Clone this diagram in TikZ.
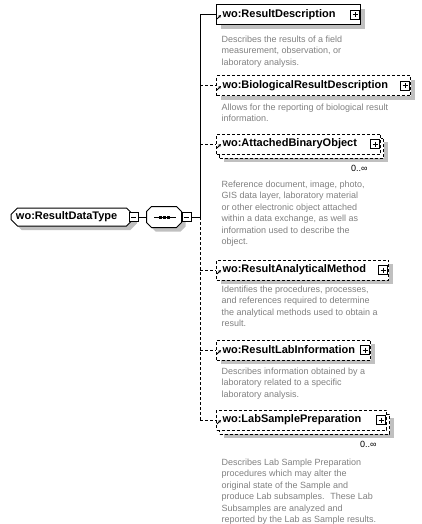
\documentclass[tikz,border=0pt]{standalone}
\usepackage{fontspec}
\setmainfont{Liberation Sans}
\usetikzlibrary{positioning,arrows.meta,shadows,shapes.misc}

\definecolor{notegray}{RGB}{128,128,128}
\definecolor{shadegray}{RGB}{192,192,192}

\tikzset{
  optline/.style={dash pattern=on 3pt off 2pt},
  boxshade/.style={drop shadow={shadow xshift=4pt, shadow yshift=-4pt, fill=shadegray, opacity=1}},
  labelfont/.style={font=\bfseries\fontsize{11}{13}\selectfont},
  elembox/.style={draw, fill=white, boxshade, anchor=west, minimum height=20pt,
    inner xsep=6pt, inner ysep=0pt, text width=#1, align=left, labelfont},
  optbox/.style={elembox=#1, optline},
  multibox/.style={draw, fill=white, anchor=west, minimum height=20pt,
    inner xsep=6pt, inner ysep=0pt, text width=#1, align=left, labelfont, optline,
    drop shadow={shadow xshift=7pt, shadow yshift=-8pt, fill=shadegray, opacity=1},
    copy shadow={shadow xshift=3pt, shadow yshift=-4pt}},
  pmbox/.style={draw, solid, fill=white, minimum size=9pt, inner sep=0pt},
  minusbox/.style={pmbox, path picture={
    \draw ([xshift=2pt]path picture bounding box.west) -- ([xshift=-2pt]path picture bounding box.east);}},
  plusbox/.style={pmbox, path picture={
    \draw ([xshift=2pt]path picture bounding box.west) -- ([xshift=-2pt]path picture bounding box.east)
          ([yshift=-2pt]path picture bounding box.north) -- ([yshift=2pt]path picture bounding box.south);}},
  refarrow/.style={solid, line width=0.8pt, -{Stealth[length=3pt,width=3pt]}},
  desc/.style={anchor=north west, inner sep=0pt, align=left, text=notegray,
    font=\fontsize{9}{11.5}\selectfont},
  multtext/.style={anchor=east, inner sep=0pt, font=\fontsize{9}{11}\selectfont}
}

\begin{document}
\begin{tikzpicture}[x=1pt, y=-1pt, line width=1pt]
  \useasboundingbox (0,0) rectangle (421,524);

  % the type and its sequence
  \node[chamfered rectangle, chamfered rectangle xsep=3pt, draw, fill=white, boxshade,
    minimum width=122pt, minimum height=18pt, inner sep=0pt, text width=112pt, align=left,
    labelfont] (root) at (72,217) {wo:ResultDataType};
  \node[minusbox] (rootminus) at (root.east) {};
  \node[minimum width=34pt, minimum height=20pt, inner sep=0pt] (seq) at (164,217) {};
  \draw[fill=white, boxshade] ([xshift=5pt]seq.north west) -- ([xshift=-5pt]seq.north east)
    -- ([yshift=-5pt]seq.north east) -- ([yshift=5pt]seq.south east)
    -- ([xshift=-5pt]seq.south east) -- ([xshift=5pt]seq.south west)
    -- ([yshift=5pt]seq.south west) -- ([yshift=-5pt]seq.north west) -- cycle;
  \node[minusbox, right=0pt of seq] (seqminus) {};
  \draw ([xshift=-10pt]seq.center) -- ([xshift=12pt]seq.center);
  \foreach \d in {-4,0,4}
    \fill ([xshift=\d pt]seq.center) +(-1.5,-1.5) rectangle +(1.5,1.5);
  \coordinate (fork) at (200,217);
  \draw (rootminus.east) -- (seq.west);
  \draw (seqminus.east) -- (fork);

  % child elements
  \node[elembox=132pt] (result) at (216,15) {wo:ResultDescription};
  \node[optbox=182pt] (bio) at (216,86) {wo:BiologicalResultDescription};
  \node[multibox=152pt] (binary) at (216,144) {wo:AttachedBinaryObject};
  \node[optbox=160pt] (method) at (216,270) {wo:ResultAnalyticalMethod};
  \node[optbox=142pt] (labinfo) at (216,350) {wo:ResultLabInformation};
  \node[multibox=158pt] (prep) at (216,420) {wo:LabSamplePreparation};

  \foreach \e in {result,bio,binary,method,labinfo,prep} {
    \node[plusbox] (\e plus) at ([xshift=-6pt]\e.east) {};
    \draw[refarrow] ([shift={(1,4)}]\e.west) -- ++(4,-4);
  }

  % connectors
  \draw (fork |- result.west) -- (fork);
  \draw[optline] (fork) -- (fork |- prep.west);
  \draw (fork |- result.west) -- (result.west);
  \draw[optline] (fork |- bio.west) -- (bio.west);
  \draw[optline] (fork |- binary.west) -- (binary.west);
  \draw[optline] (fork |- method.west) -- (method.west);
  \draw[optline] (fork |- labinfo.west) -- (labinfo.west);
  \draw[optline] (fork |- prep.west) -- (prep.west);

  \node[multtext] (binarymult) at (368,168) {0..∞};
  \node[multtext] (prepmult) at (377,444) {0..∞};

  % annotations
  \node[desc] (resulttxt) at (221,35) {Describes the results of a field\\measurement, observation, or\\laboratory analysis.};
  \node[desc] (biotxt) at (221,103) {Allows for the reporting of biological result\\information.};
  \node[desc] (binarytxt) at (221,180) {Reference document, image, photo,\\GIS data layer, laboratory material\\or other electronic object attached\\within a data exchange, as well as\\information used to describe the\\object.};
  \node[desc] (methodtxt) at (221,285) {Identifies the procedures, processes,\\and references required to determine\\the analytical methods used to obtain a\\result.};
  \node[desc] (labinfotxt) at (221,367) {Describes information obtained by a\\laboratory related to a specific\\laboratory analysis.};
  \node[desc] (preptxt) at (221,458) {Describes Lab Sample Preparation\\procedures which may alter the\\original state of the Sample and\\produce Lab subsamples.~ These Lab\\Subsamples are analyzed and\\reported by the Lab as Sample results.};
\end{tikzpicture}
\end{document}
